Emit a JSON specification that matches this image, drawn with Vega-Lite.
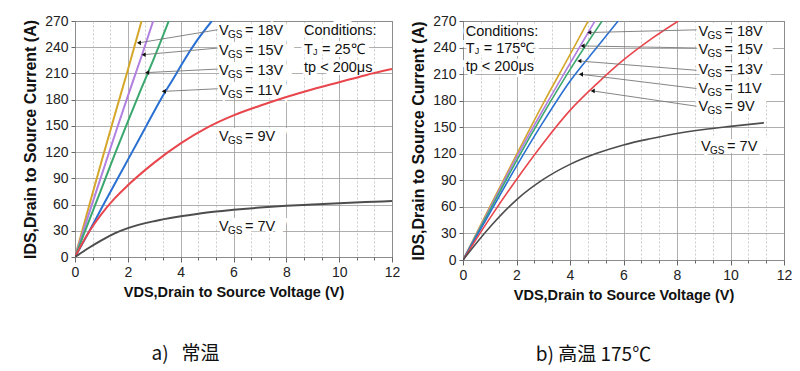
{
  "$schema": "https://vega.github.io/schema/vega-lite/v6.json",
  "padding": {"left": 22, "top": 13, "right": 5, "bottom": 5},
  "spacing": 9,
  "config": {
    "font": "Liberation Sans",
    "view": {"stroke": "#555", "strokeWidth": 1},
    "axis": {"domain": false, "gridColor": "#9a9a9a", "gridWidth": 0.8, "tickColor": "#666", "labelFont": "Liberation Sans", "labelFontSize": 14, "labelColor": "#222", "titleFont": "Liberation Sans", "titleFontWeight": "bold", "titleColor": "#111", "labelPadding": 3}
  },
  "datasets": {
    "curves": [
      {"p": "a", "vgs": "18V", "v": 0, "i": 0}, {"p": "a", "vgs": "18V", "v": 0.5, "i": 55}, {"p": "a", "vgs": "18V", "v": 1, "i": 109}, {"p": "a", "vgs": "18V", "v": 1.5, "i": 162}, {"p": "a", "vgs": "18V", "v": 2, "i": 214}, {"p": "a", "vgs": "18V", "v": 2.52, "i": 270},
      {"p": "a", "vgs": "15V", "v": 0, "i": 0}, {"p": "a", "vgs": "15V", "v": 0.5, "i": 47}, {"p": "a", "vgs": "15V", "v": 1, "i": 93}, {"p": "a", "vgs": "15V", "v": 1.5, "i": 139}, {"p": "a", "vgs": "15V", "v": 2, "i": 184}, {"p": "a", "vgs": "15V", "v": 2.5, "i": 228}, {"p": "a", "vgs": "15V", "v": 2.96, "i": 270},
      {"p": "a", "vgs": "13V", "v": 0, "i": 0}, {"p": "a", "vgs": "13V", "v": 0.5, "i": 39}, {"p": "a", "vgs": "13V", "v": 1, "i": 78}, {"p": "a", "vgs": "13V", "v": 1.5, "i": 117}, {"p": "a", "vgs": "13V", "v": 2, "i": 155}, {"p": "a", "vgs": "13V", "v": 2.5, "i": 192}, {"p": "a", "vgs": "13V", "v": 3, "i": 228}, {"p": "a", "vgs": "13V", "v": 3.55, "i": 270},
      {"p": "a", "vgs": "11V", "v": 0, "i": 0}, {"p": "a", "vgs": "11V", "v": 0.55, "i": 30}, {"p": "a", "vgs": "11V", "v": 1.08, "i": 60}, {"p": "a", "vgs": "11V", "v": 1.62, "i": 90}, {"p": "a", "vgs": "11V", "v": 2.16, "i": 120}, {"p": "a", "vgs": "11V", "v": 2.7, "i": 150}, {"p": "a", "vgs": "11V", "v": 3.24, "i": 180}, {"p": "a", "vgs": "11V", "v": 3.8, "i": 208}, {"p": "a", "vgs": "11V", "v": 4.07, "i": 222}, {"p": "a", "vgs": "11V", "v": 4.6, "i": 247}, {"p": "a", "vgs": "11V", "v": 5.18, "i": 270},
      {"p": "a", "vgs": "9V", "v": 0, "i": 0}, {"p": "a", "vgs": "9V", "v": 0.3, "i": 17}, {"p": "a", "vgs": "9V", "v": 0.6, "i": 32}, {"p": "a", "vgs": "9V", "v": 1, "i": 49}, {"p": "a", "vgs": "9V", "v": 1.5, "i": 67}, {"p": "a", "vgs": "9V", "v": 2, "i": 82}, {"p": "a", "vgs": "9V", "v": 3, "i": 108}, {"p": "a", "vgs": "9V", "v": 4, "i": 130}, {"p": "a", "vgs": "9V", "v": 5, "i": 148}, {"p": "a", "vgs": "9V", "v": 6, "i": 162}, {"p": "a", "vgs": "9V", "v": 7, "i": 173}, {"p": "a", "vgs": "9V", "v": 8, "i": 183}, {"p": "a", "vgs": "9V", "v": 9, "i": 192}, {"p": "a", "vgs": "9V", "v": 10, "i": 200}, {"p": "a", "vgs": "9V", "v": 11, "i": 208}, {"p": "a", "vgs": "9V", "v": 12, "i": 215},
      {"p": "a", "vgs": "7V", "v": 0, "i": 0}, {"p": "a", "vgs": "7V", "v": 0.5, "i": 10}, {"p": "a", "vgs": "7V", "v": 1, "i": 19}, {"p": "a", "vgs": "7V", "v": 1.5, "i": 27}, {"p": "a", "vgs": "7V", "v": 2, "i": 33}, {"p": "a", "vgs": "7V", "v": 3, "i": 41}, {"p": "a", "vgs": "7V", "v": 4, "i": 46.5}, {"p": "a", "vgs": "7V", "v": 5, "i": 51}, {"p": "a", "vgs": "7V", "v": 6, "i": 54}, {"p": "a", "vgs": "7V", "v": 7, "i": 56.5}, {"p": "a", "vgs": "7V", "v": 8, "i": 58.5}, {"p": "a", "vgs": "7V", "v": 9, "i": 60}, {"p": "a", "vgs": "7V", "v": 10, "i": 61.5}, {"p": "a", "vgs": "7V", "v": 11, "i": 62.8}, {"p": "a", "vgs": "7V", "v": 12, "i": 64},
      {"p": "b", "vgs": "18V", "v": 0, "i": 0}, {"p": "b", "vgs": "18V", "v": 1, "i": 60}, {"p": "b", "vgs": "18V", "v": 2, "i": 119}, {"p": "b", "vgs": "18V", "v": 3, "i": 177}, {"p": "b", "vgs": "18V", "v": 4, "i": 232}, {"p": "b", "vgs": "18V", "v": 4.68, "i": 270},
      {"p": "b", "vgs": "15V", "v": 0, "i": 0}, {"p": "b", "vgs": "15V", "v": 1, "i": 58}, {"p": "b", "vgs": "15V", "v": 2, "i": 116}, {"p": "b", "vgs": "15V", "v": 3, "i": 170}, {"p": "b", "vgs": "15V", "v": 4, "i": 222}, {"p": "b", "vgs": "15V", "v": 4.93, "i": 270},
      {"p": "b", "vgs": "13V", "v": 0, "i": 0}, {"p": "b", "vgs": "13V", "v": 1, "i": 56}, {"p": "b", "vgs": "13V", "v": 2, "i": 112}, {"p": "b", "vgs": "13V", "v": 3, "i": 165}, {"p": "b", "vgs": "13V", "v": 4, "i": 215}, {"p": "b", "vgs": "13V", "v": 5.2, "i": 270},
      {"p": "b", "vgs": "11V", "v": 0, "i": 0}, {"p": "b", "vgs": "11V", "v": 1, "i": 53}, {"p": "b", "vgs": "11V", "v": 2, "i": 106}, {"p": "b", "vgs": "11V", "v": 3, "i": 156}, {"p": "b", "vgs": "11V", "v": 4, "i": 202}, {"p": "b", "vgs": "11V", "v": 5, "i": 240}, {"p": "b", "vgs": "11V", "v": 5.8, "i": 270},
      {"p": "b", "vgs": "9V", "v": 0, "i": 0}, {"p": "b", "vgs": "9V", "v": 1, "i": 47}, {"p": "b", "vgs": "9V", "v": 2, "i": 91}, {"p": "b", "vgs": "9V", "v": 3, "i": 132}, {"p": "b", "vgs": "9V", "v": 4, "i": 169}, {"p": "b", "vgs": "9V", "v": 5, "i": 199}, {"p": "b", "vgs": "9V", "v": 6, "i": 226}, {"p": "b", "vgs": "9V", "v": 7, "i": 249}, {"p": "b", "vgs": "9V", "v": 8.05, "i": 270},
      {"p": "b", "vgs": "7V", "v": 0, "i": 0}, {"p": "b", "vgs": "7V", "v": 1, "i": 37}, {"p": "b", "vgs": "7V", "v": 2, "i": 68}, {"p": "b", "vgs": "7V", "v": 3, "i": 91}, {"p": "b", "vgs": "7V", "v": 4, "i": 108}, {"p": "b", "vgs": "7V", "v": 5, "i": 120.5}, {"p": "b", "vgs": "7V", "v": 6, "i": 130}, {"p": "b", "vgs": "7V", "v": 7, "i": 137}, {"p": "b", "vgs": "7V", "v": 8, "i": 143}, {"p": "b", "vgs": "7V", "v": 9, "i": 147.5}, {"p": "b", "vgs": "7V", "v": 10, "i": 151}, {"p": "b", "vgs": "7V", "v": 11.25, "i": 155}
    ],
    "leaders": [
      {"p": "a", "x1": 5.4, "y1": 260, "x2": 2.42, "y2": 245},
      {"p": "a", "x1": 5.4, "y1": 239, "x2": 2.6, "y2": 231.5},
      {"p": "a", "x1": 5.4, "y1": 215, "x2": 2.73, "y2": 211},
      {"p": "a", "x1": 5.4, "y1": 192.5, "x2": 3.36, "y2": 189.5},
      {"p": "b", "x1": 8.73, "y1": 260, "x2": 4.72, "y2": 257},
      {"p": "b", "x1": 8.73, "y1": 239.5, "x2": 4.47, "y2": 241.8},
      {"p": "b", "x1": 8.73, "y1": 214.3, "x2": 4.35, "y2": 224.8},
      {"p": "b", "x1": 8.73, "y1": 193.7, "x2": 4.41, "y2": 209.8},
      {"p": "b", "x1": 8.73, "y1": 173.7, "x2": 4.85, "y2": 191}
    ],
    "labels": [
      {"p": "a", "x": 5.45, "y": 258.5, "rest": "= 18V", "full": "VGS = 18V"},
      {"p": "a", "x": 5.45, "y": 235.5, "rest": "= 15V", "full": "VGS = 15V"},
      {"p": "a", "x": 5.45, "y": 212.5, "rest": "= 13V", "full": "VGS = 13V"},
      {"p": "a", "x": 5.45, "y": 189.5, "rest": "= 11V", "full": "VGS = 11V"},
      {"p": "a", "x": 5.45, "y": 137, "rest": "= 9V", "full": "VGS = 9V"},
      {"p": "a", "x": 5.45, "y": 34, "rest": "= 7V", "full": "VGS = 7V"},
      {"p": "b", "x": 8.8, "y": 257.6, "rest": "= 18V", "full": "VGS = 18V"},
      {"p": "b", "x": 8.8, "y": 237.7, "rest": "= 15V", "full": "VGS = 15V"},
      {"p": "b", "x": 8.8, "y": 215, "rest": "= 13V", "full": "VGS = 13V"},
      {"p": "b", "x": 8.8, "y": 193.7, "rest": "= 11V", "full": "VGS = 11V"},
      {"p": "b", "x": 8.8, "y": 172.3, "rest": "= 9V", "full": "VGS = 9V"},
      {"p": "b", "x": 8.9, "y": 127.8, "rest": "= 7V", "full": "VGS = 7V"}
    ],
    "conds": [
      {"p": "a", "x": 8.67, "y": 258, "t": "Conditions:"},
      {"p": "a", "x": 8.67, "y": 216, "t": "tp < 200μs"},
      {"p": "b", "x": 0.1, "y": 257.6, "t": "Conditions:"},
      {"p": "b", "x": 0.1, "y": 218, "t": "tp < 200μs"}
    ],
    "tj": [
      {"p": "a", "x": 8.67, "y": 236.5, "rest": "= 25℃", "full": "TJ = 25℃"},
      {"p": "b", "x": 0.1, "y": 238, "rest": "= 175℃", "full": "TJ = 175℃"}
    ]
  },
  "hconcat": [
    {
      "width": 317,
      "height": 236,
      "title": {"text": "a)\u00a0\u00a0\u00a0常温", "orient": "bottom", "anchor": "middle", "dx": -48, "offset": 46, "fontSize": 19, "font": "Noto Sans CJK SC", "fontWeight": "normal", "color": "#111"},
      "layer": [
        {
          "data": {"name": "labels"},
          "transform": [{"filter": "datum.p === 'a'"}],
          "mark": {"type": "text", "align": "left", "baseline": "middle", "fontSize": 14.5, "stroke": "white", "strokeWidth": 6, "fill": "white"},
          "encoding": {
            "x": {"field": "x", "type": "quantitative", "scale": {"domain": [0, 12], "nice": false},
              "axis": {"values": [0, 0.6667, 1.3333, 2, 2.6667, 3.3333, 4, 4.6667, 5.3333, 6, 6.6667, 7.3333, 8, 8.6667, 9.3333, 10, 10.6667, 11.3333, 12],
                "tickCount": 40,
                "labelExpr": "abs(datum.value - round(datum.value/2)*2) < 0.01 ? format(datum.value, 'd') : ''",
                "labelOverlap": false, "labelFlush": false,
                "gridDash": {"condition": {"test": "abs(datum.value - round(datum.value/2)*2) > 0.01", "value": [2, 2]}, "value": []},
                "gridColor": {"condition": {"test": "abs(datum.value - round(datum.value/2)*2) > 0.01", "value": "#c0c0c0"}, "value": "#9a9a9a"},
                "tickSize": {"condition": {"test": "abs(datum.value - round(datum.value/2)*2) > 0.01", "value": 3}, "value": 5},
                "title": "VDS,Drain to Source Voltage (V)", "titleFontSize": 14.5, "titlePadding": 6}},
            "y": {"field": "y", "type": "quantitative", "scale": {"domain": [0, 270], "nice": false},
              "axis": {"values": [0, 30, 60, 90, 120, 150, 180, 210, 240, 270], "tickCount": 30, "labelOverlap": false, "labelFlush": false, "tickSize": 4, "title": "IDS,Drain to Source Current (A)", "titleFontSize": 16, "titlePadding": 6}},
            "text": {"field": "full"}
          }
        },
        {
          "data": {"name": "conds"},
          "transform": [{"filter": "datum.p === 'a'"}],
          "mark": {"type": "text", "align": "left", "baseline": "middle", "fontSize": 14.5, "stroke": "white", "strokeWidth": 6, "fill": "white"},
          "encoding": {"x": {"field": "x", "type": "quantitative"}, "y": {"field": "y", "type": "quantitative"}, "text": {"field": "t"}}
        },
        {
          "data": {"name": "tj"},
          "transform": [{"filter": "datum.p === 'a'"}],
          "mark": {"type": "text", "align": "left", "baseline": "middle", "fontSize": 14.5, "stroke": "white", "strokeWidth": 6, "fill": "white"},
          "encoding": {"x": {"field": "x", "type": "quantitative"}, "y": {"field": "y", "type": "quantitative"}, "text": {"field": "full"}}
        },
        {
          "data": {"name": "curves"},
          "transform": [{"filter": "datum.p === 'a'"}],
          "mark": {"type": "line", "strokeWidth": 2, "interpolate": "monotone", "clip": true},
          "encoding": {
            "x": {"field": "v", "type": "quantitative"},
            "y": {"field": "i", "type": "quantitative"},
            "color": {"field": "vgs", "type": "nominal", "legend": null,
              "scale": {"domain": ["18V", "15V", "13V", "11V", "9V", "7V"], "range": ["#d4a62a", "#b27fe0", "#3aa86e", "#2a70d2", "#e8464c", "#4d4d4d"]}}
          }
        },
        {
          "data": {"name": "leaders"},
          "transform": [{"filter": "datum.p === 'a'"}],
          "mark": {"type": "rule", "color": "#777", "strokeWidth": 0.9},
          "encoding": {"x": {"field": "x1", "type": "quantitative"}, "y": {"field": "y1", "type": "quantitative"}, "x2": {"field": "x2"}, "y2": {"field": "y2"}}
        },
        {
          "data": {"name": "leaders"},
          "transform": [{"filter": "datum.p === 'a'"}],
          "mark": {"type": "point", "shape": "triangle-left", "filled": true, "color": "#111", "size": 22, "opacity": 1},
          "encoding": {"x": {"field": "x2", "type": "quantitative"}, "y": {"field": "y2", "type": "quantitative"}}
        },
        {
          "data": {"name": "labels"},
          "transform": [{"filter": "datum.p === 'a'"}],
          "mark": {"type": "text", "align": "left", "baseline": "middle", "fontSize": 14.5, "color": "#111", "text": "V"},
          "encoding": {"x": {"field": "x", "type": "quantitative"}, "y": {"field": "y", "type": "quantitative"}}
        },
        {
          "data": {"name": "labels"},
          "transform": [{"filter": "datum.p === 'a'"}],
          "mark": {"type": "text", "align": "left", "baseline": "middle", "fontSize": 10, "color": "#111", "text": "GS", "dx": 9, "dy": 4},
          "encoding": {"x": {"field": "x", "type": "quantitative"}, "y": {"field": "y", "type": "quantitative"}}
        },
        {
          "data": {"name": "labels"},
          "transform": [{"filter": "datum.p === 'a'"}],
          "mark": {"type": "text", "align": "left", "baseline": "middle", "fontSize": 14.5, "color": "#111", "dx": 26},
          "encoding": {"x": {"field": "x", "type": "quantitative"}, "y": {"field": "y", "type": "quantitative"}, "text": {"field": "rest"}}
        },
        {
          "data": {"name": "conds"},
          "transform": [{"filter": "datum.p === 'a'"}],
          "mark": {"type": "text", "align": "left", "baseline": "middle", "fontSize": 14.5, "color": "#111"},
          "encoding": {"x": {"field": "x", "type": "quantitative"}, "y": {"field": "y", "type": "quantitative"}, "text": {"field": "t"}}
        },
        {
          "data": {"name": "tj"},
          "transform": [{"filter": "datum.p === 'a'"}],
          "mark": {"type": "text", "align": "left", "baseline": "middle", "fontSize": 14.5, "color": "#111", "text": "T"},
          "encoding": {"x": {"field": "x", "type": "quantitative"}, "y": {"field": "y", "type": "quantitative"}}
        },
        {
          "data": {"name": "tj"},
          "transform": [{"filter": "datum.p === 'a'"}],
          "mark": {"type": "text", "align": "left", "baseline": "middle", "fontSize": 9, "color": "#111", "text": "J", "dx": 9, "dy": 2},
          "encoding": {"x": {"field": "x", "type": "quantitative"}, "y": {"field": "y", "type": "quantitative"}}
        },
        {
          "data": {"name": "tj"},
          "transform": [{"filter": "datum.p === 'a'"}],
          "mark": {"type": "text", "align": "left", "baseline": "middle", "fontSize": 14.5, "color": "#111", "dx": 18},
          "encoding": {"x": {"field": "x", "type": "quantitative"}, "y": {"field": "y", "type": "quantitative"}, "text": {"field": "rest"}}
        }
      ]
    },
    {
      "width": 321,
      "height": 239,
      "title": {"text": "b) 高温 175℃", "orient": "bottom", "anchor": "middle", "dx": -30, "offset": 44, "fontSize": 19, "font": "Noto Sans CJK SC", "fontWeight": "normal", "color": "#111"},
      "layer": [
        {
          "data": {"name": "labels"},
          "transform": [{"filter": "datum.p === 'b'"}],
          "mark": {"type": "text", "align": "left", "baseline": "middle", "fontSize": 14.5, "stroke": "white", "strokeWidth": 6, "fill": "white"},
          "encoding": {
            "x": {"field": "x", "type": "quantitative", "scale": {"domain": [0, 12], "nice": false},
              "axis": {"values": [0, 0.6667, 1.3333, 2, 2.6667, 3.3333, 4, 4.6667, 5.3333, 6, 6.6667, 7.3333, 8, 8.6667, 9.3333, 10, 10.6667, 11.3333, 12],
                "tickCount": 40,
                "labelExpr": "abs(datum.value - round(datum.value/2)*2) < 0.01 ? format(datum.value, 'd') : ''",
                "labelOverlap": false, "labelFlush": false,
                "gridDash": {"condition": {"test": "abs(datum.value - round(datum.value/2)*2) > 0.01", "value": [2, 2]}, "value": []},
                "gridColor": {"condition": {"test": "abs(datum.value - round(datum.value/2)*2) > 0.01", "value": "#c0c0c0"}, "value": "#9a9a9a"},
                "tickSize": {"condition": {"test": "abs(datum.value - round(datum.value/2)*2) > 0.01", "value": 3}, "value": 5},
                "title": "VDS,Drain to Source Voltage (V)", "titleFontSize": 14.5, "titlePadding": 6}},
            "y": {"field": "y", "type": "quantitative", "scale": {"domain": [0, 270], "nice": false},
              "axis": {"values": [0, 30, 60, 90, 120, 150, 180, 210, 240, 270], "tickCount": 30, "labelOverlap": false, "labelFlush": false, "tickSize": 4, "title": "IDS,Drain to Source Current (A)", "titleFontSize": 16, "titlePadding": 6}},
            "text": {"field": "full"}
          }
        },
        {
          "data": {"name": "conds"},
          "transform": [{"filter": "datum.p === 'b'"}],
          "mark": {"type": "text", "align": "left", "baseline": "middle", "fontSize": 14.5, "stroke": "white", "strokeWidth": 6, "fill": "white"},
          "encoding": {"x": {"field": "x", "type": "quantitative"}, "y": {"field": "y", "type": "quantitative"}, "text": {"field": "t"}}
        },
        {
          "data": {"name": "tj"},
          "transform": [{"filter": "datum.p === 'b'"}],
          "mark": {"type": "text", "align": "left", "baseline": "middle", "fontSize": 14.5, "stroke": "white", "strokeWidth": 6, "fill": "white"},
          "encoding": {"x": {"field": "x", "type": "quantitative"}, "y": {"field": "y", "type": "quantitative"}, "text": {"field": "full"}}
        },
        {
          "data": {"name": "curves"},
          "transform": [{"filter": "datum.p === 'b'"}],
          "mark": {"type": "line", "strokeWidth": 1.6, "interpolate": "monotone", "clip": true},
          "encoding": {
            "x": {"field": "v", "type": "quantitative"},
            "y": {"field": "i", "type": "quantitative"},
            "color": {"field": "vgs", "type": "nominal", "legend": null,
              "scale": {"domain": ["18V", "15V", "13V", "11V", "9V", "7V"], "range": ["#d4a62a", "#b27fe0", "#3aa86e", "#2a70d2", "#e8464c", "#4d4d4d"]}}
          }
        },
        {
          "data": {"name": "leaders"},
          "transform": [{"filter": "datum.p === 'b'"}],
          "mark": {"type": "rule", "color": "#777", "strokeWidth": 0.9},
          "encoding": {"x": {"field": "x1", "type": "quantitative"}, "y": {"field": "y1", "type": "quantitative"}, "x2": {"field": "x2"}, "y2": {"field": "y2"}}
        },
        {
          "data": {"name": "leaders"},
          "transform": [{"filter": "datum.p === 'b'"}],
          "mark": {"type": "point", "shape": "triangle-left", "filled": true, "color": "#111", "size": 22, "opacity": 1},
          "encoding": {"x": {"field": "x2", "type": "quantitative"}, "y": {"field": "y2", "type": "quantitative"}}
        },
        {
          "data": {"name": "labels"},
          "transform": [{"filter": "datum.p === 'b'"}],
          "mark": {"type": "text", "align": "left", "baseline": "middle", "fontSize": 14.5, "color": "#111", "text": "V"},
          "encoding": {"x": {"field": "x", "type": "quantitative"}, "y": {"field": "y", "type": "quantitative"}}
        },
        {
          "data": {"name": "labels"},
          "transform": [{"filter": "datum.p === 'b'"}],
          "mark": {"type": "text", "align": "left", "baseline": "middle", "fontSize": 10, "color": "#111", "text": "GS", "dx": 9, "dy": 4},
          "encoding": {"x": {"field": "x", "type": "quantitative"}, "y": {"field": "y", "type": "quantitative"}}
        },
        {
          "data": {"name": "labels"},
          "transform": [{"filter": "datum.p === 'b'"}],
          "mark": {"type": "text", "align": "left", "baseline": "middle", "fontSize": 14.5, "color": "#111", "dx": 26},
          "encoding": {"x": {"field": "x", "type": "quantitative"}, "y": {"field": "y", "type": "quantitative"}, "text": {"field": "rest"}}
        },
        {
          "data": {"name": "conds"},
          "transform": [{"filter": "datum.p === 'b'"}],
          "mark": {"type": "text", "align": "left", "baseline": "middle", "fontSize": 14.5, "color": "#111"},
          "encoding": {"x": {"field": "x", "type": "quantitative"}, "y": {"field": "y", "type": "quantitative"}, "text": {"field": "t"}}
        },
        {
          "data": {"name": "tj"},
          "transform": [{"filter": "datum.p === 'b'"}],
          "mark": {"type": "text", "align": "left", "baseline": "middle", "fontSize": 14.5, "color": "#111", "text": "T"},
          "encoding": {"x": {"field": "x", "type": "quantitative"}, "y": {"field": "y", "type": "quantitative"}}
        },
        {
          "data": {"name": "tj"},
          "transform": [{"filter": "datum.p === 'b'"}],
          "mark": {"type": "text", "align": "left", "baseline": "middle", "fontSize": 9, "color": "#111", "text": "J", "dx": 9, "dy": 2},
          "encoding": {"x": {"field": "x", "type": "quantitative"}, "y": {"field": "y", "type": "quantitative"}}
        },
        {
          "data": {"name": "tj"},
          "transform": [{"filter": "datum.p === 'b'"}],
          "mark": {"type": "text", "align": "left", "baseline": "middle", "fontSize": 14.5, "color": "#111", "dx": 18},
          "encoding": {"x": {"field": "x", "type": "quantitative"}, "y": {"field": "y", "type": "quantitative"}, "text": {"field": "rest"}}
        }
      ]
    }
  ]
}
